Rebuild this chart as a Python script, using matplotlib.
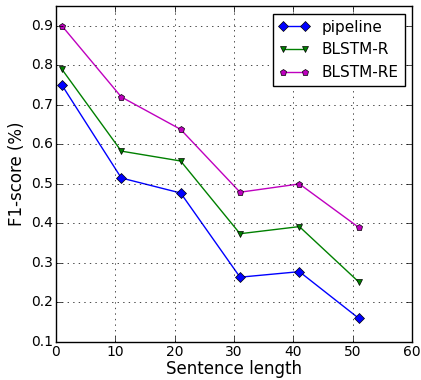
import matplotlib
matplotlib.use("Agg")
import matplotlib.pyplot as plt

plt.style.use("classic")

x = [1, 11, 21, 31, 41, 51]
pipeline = [0.75, 0.515, 0.477, 0.264, 0.278, 0.160]
blstm_r = [0.79, 0.583, 0.558, 0.374, 0.392, 0.252]
blstm_re = [0.90, 0.720, 0.638, 0.479, 0.500, 0.390]

fig = plt.figure(figsize=(4.21, 3.80), dpi=100, facecolor="white")
ax = fig.add_axes([0.133, 0.10, 0.846, 0.884])
ax.plot(x, pipeline, "b-D", markersize=5, label="pipeline")
ax.plot(x, blstm_r, "g-v", markersize=5, label="BLSTM-R")
ax.plot(x, blstm_re, "m-p", markersize=5, label="BLSTM-RE")
ax.set_xlim(0, 60)
ax.set_ylim(0.1, 0.95)
ax.set_xticks([0, 10, 20, 30, 40, 50, 60])
ax.set_yticks([0.1, 0.2, 0.3, 0.4, 0.5, 0.6, 0.7, 0.8, 0.9])
ax.tick_params(labelsize=10, pad=2)
ax.grid(True)
ax.set_xlabel("Sentence length", fontsize=12, labelpad=1)
ax.set_ylabel("F1-score (%)", fontsize=12, labelpad=4)
ax.legend(loc="upper right", fontsize=11, numpoints=2)
fig.savefig("out.png", dpi=100, facecolor="white")
